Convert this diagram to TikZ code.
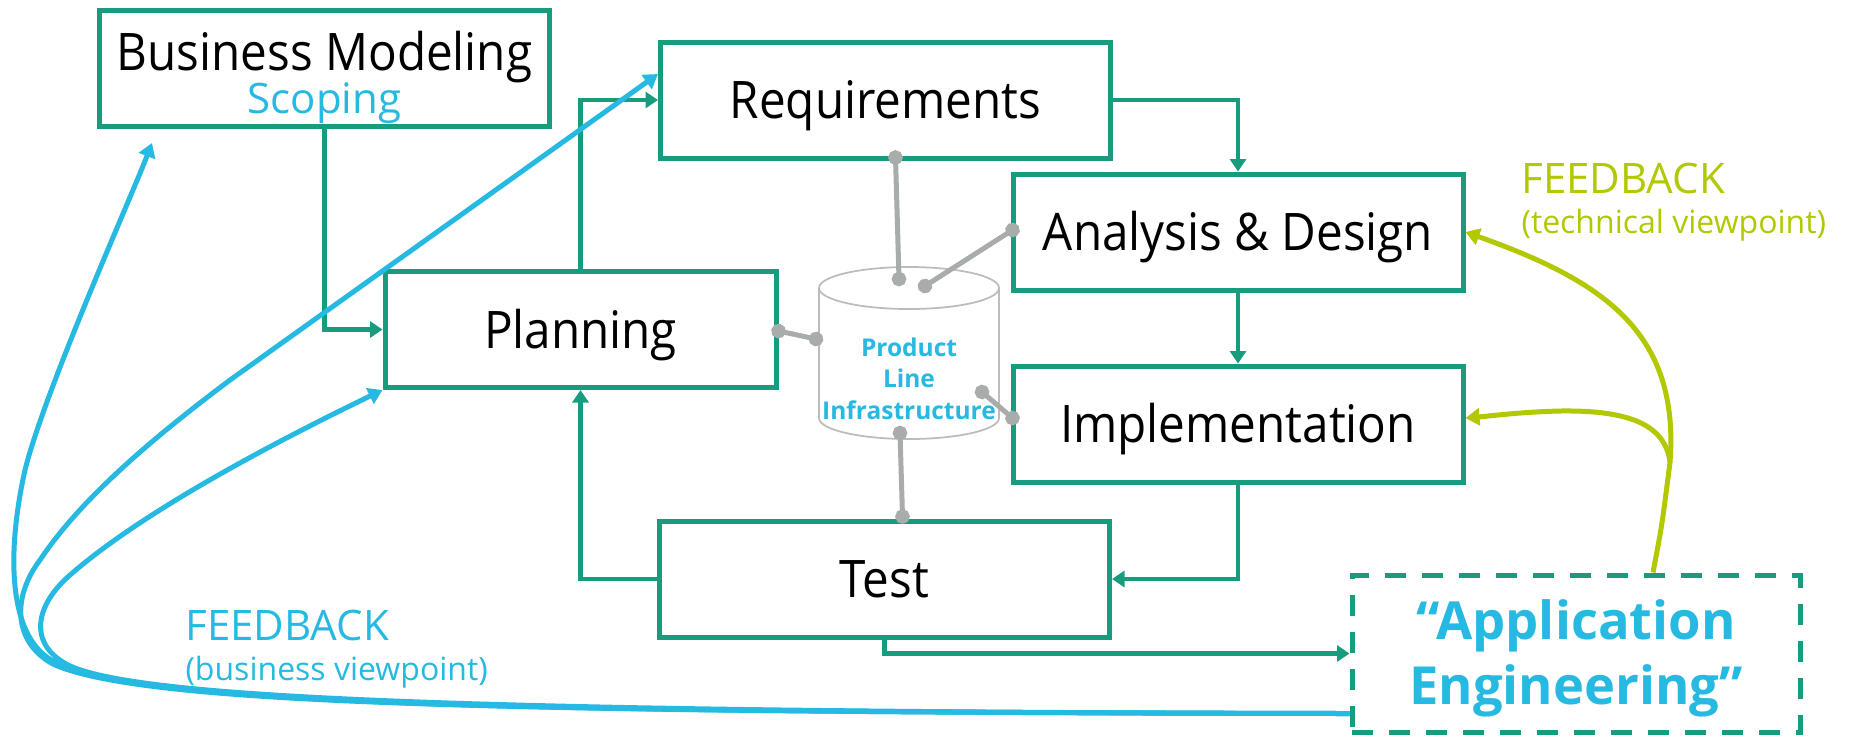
\documentclass[tikz,border=0pt]{standalone}
\usepackage{fontspec}
\setmainfont{Open Sans}
\newfontfamily\narrowfont[FakeStretch=0.92]{Open Sans}
\usetikzlibrary{arrows.meta}
\definecolor{fgreen}{RGB}{23,156,125}
\definecolor{fcyan}{RGB}{38,185,225}
\definecolor{flime}{RGB}{178,200,0}
\definecolor{fgray}{RGB}{168,172,171}
\definecolor{cylgray}{RGB}{185,189,188}
\begin{document}
\begin{tikzpicture}[x=0.4pt,y=-0.4pt,
  box/.style={draw=fgreen, line width=2pt, fill=white, minimum width=180pt, minimum height=46.4pt,
    inner sep=0pt, font=\narrowfont\fontsize{20.7}{16.8}\selectfont, text height=14.8pt, text depth=0pt},
  flow/.style={draw=fgreen, line width=1.8pt, -{Triangle[length=5pt,width=6.4pt]}},
  fb/.style={draw=fcyan, line width=2pt, -{Triangle[length=5.6pt,width=6.8pt]}},
  tfb/.style={draw=flime, line width=2pt, -{Triangle[length=5.6pt,width=6.8pt]}},
  link/.style={draw=fgray, line width=2pt, {Circle[length=5.8pt]}-{Circle[length=5.8pt]},
    shorten <=-2.9pt, shorten >=-2.9pt},
  fbtext/.style={anchor=base west, inner sep=0pt, font=\fontsize{16.8}{16}\selectfont}
]
\useasboundingbox (0,0) rectangle (1850,736);

% boxes
\node[box, text depth=13.6pt] (biz) at (324.5,68.5)
  {\begin{tabular}[t]{@{}c@{}}Business Modeling\\{\normalfont\fontsize{16.8}{16.8}\selectfont\color{fcyan}Scoping}\end{tabular}};
\node[box] (req) at (885.5,100) {Requirements};
\node[box] (ana) at (1238,232) {Analysis \& Design};
\node[box] (imp) at (1238,424) {Implementation};
\node[box, minimum width=156.4pt] (plan) at (580.5,329.5) {Planning};
\node[box] (test) at (884.5,579) {Test};
\node[box, dash pattern=on 8.4pt off 6.4pt, minimum width=179.2pt, minimum height=62.8pt,
  text=fcyan, font=\bfseries\fontsize{21}{26}\selectfont, text height=15pt, text depth=26pt]
  (app) at (1576,653.5)
  {\begin{tabular}[t]{@{}c@{}}“Application\\Engineering”\end{tabular}};

% product line infrastructure (cylinder)
\draw[cylgray, line width=0.7pt, fill=white] (819,288) -- (819,418) arc[start angle=180, end angle=0, x radius=90, y radius=21] -- (999,288);
\draw[cylgray, line width=0.7pt] (909,288) ellipse[x radius=90, y radius=21];
\node[inner sep=0pt, text=fcyan, font=\bfseries\fontsize{9.8}{12.6}\selectfont, text height=7pt, text depth=25.2pt]
  (pli) at (909,379) {\begin{tabular}[t]{@{}c@{}}Product\\Line\\Infrastructure\end{tabular}};

% process flow
\draw[flow] (biz.south) |- (plan.west);
\draw[flow] (plan.north) |- (req.west);
\draw[flow] (req.east) -| (ana.north);
\draw[flow] (ana.south) -- (imp.north);
\draw[flow] (imp.south) |- (test.east);
\draw[flow] (test.west) -| (plan.south);
\draw[flow] (test.south) |- (app.west);

% links to the infrastructure
\coordinate (c1) at (899,279);
\coordinate (c2) at (925,286);
\coordinate (c3) at (816,339);
\coordinate (c4) at (982,392);
\coordinate (c5) at (900,433);
\draw[link] ([xshift=4pt,yshift=1.2pt]req.south) -- (c1);
\draw[link] ([xshift=0.8pt,yshift=0.8pt]ana.west) -- (c2);
\draw[link] ([yshift=-0.6pt]plan.east) -- (c3);
\draw[link] ([xshift=0.8pt,yshift=2.4pt]imp.west) -- (c4);
\draw[link] ([xshift=7.2pt,yshift=0.8pt]test.north) -- (c5);

% business feedback
\coordinate (fbs) at ([yshift=-24pt]app.west);
\draw[fb] (fbs) .. controls (500,712) and (150,705) .. (55,662)
  .. controls (10,640) and (5,560) .. (25,470)
  .. controls (45,390) and (130,200) .. ([xshift=22pt,yshift=-5.6pt]biz.south west);
\draw[fb] (fbs) .. controls (500,712) and (150,705) .. (55,665)
  .. controls (15,645) and (10,600) .. (40,560)
  .. controls (80,500) and (150,440) .. (230,380) -- ([yshift=10.4pt]req.west);
\draw[fb] (fbs) .. controls (500,712) and (160,700) .. (75,668)
  .. controls (30,650) and (30,610) .. (70,575)
  .. controls (150,505) and (300,430) .. (plan.south west);

% technical feedback
\coordinate (fbt) at ([xshift=30.8pt]app.north);
\coordinate (fbsplit) at (1670,462);
\draw[tfb] (fbt) .. controls (1662,525) .. (fbsplit) .. controls (1680,330) and (1600,280) .. (ana.east);
\draw[tfb] (fbsplit) .. controls (1665,425) and (1630,410) .. (1560,411)
  .. controls (1520,412) and (1490,416) .. ([yshift=2.4pt]imp.east);

% labels
\node[fbtext, text=fcyan] (fbbiz) at (185,640)
  {\begin{tabular}[t]{@{}l@{}}FEEDBACK\\{\fontsize{12.8}{16}\selectfont(business viewpoint)}\end{tabular}};
\node[fbtext, text=flime] (fbtech) at (1521,193)
  {\begin{tabular}[t]{@{}l@{}}FEEDBACK\\{\fontsize{12.8}{16}\selectfont(technical viewpoint)}\end{tabular}};
\end{tikzpicture}
\end{document}
